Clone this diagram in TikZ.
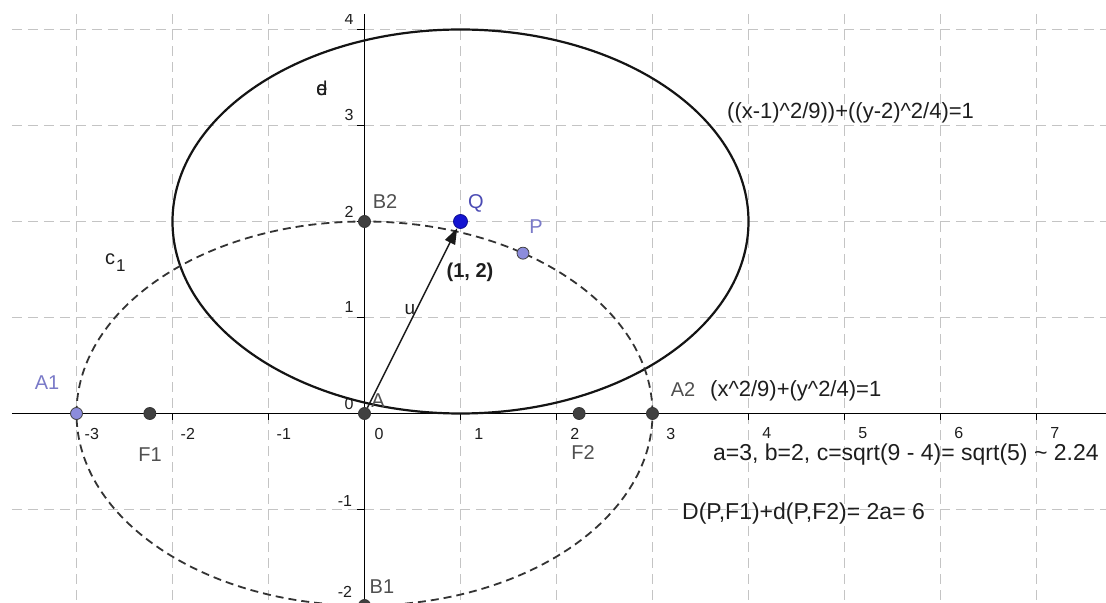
\documentclass[tikz,border=0pt]{standalone}
\usepackage{fontspec}
\setmainfont{Liberation Sans}
\usetikzlibrary{arrows.meta}
\definecolor{gridc}{HTML}{C4C4C4}
\definecolor{ptgray}{HTML}{404040}
\definecolor{lblgray}{HTML}{505050}
\definecolor{lav}{HTML}{8C8CDC}
\definecolor{lavtext}{HTML}{7A7AC8}
\definecolor{qblue}{HTML}{1414D2}
\definecolor{qtext}{HTML}{4B4BB4}
\definecolor{txt}{HTML}{1E1E1E}
\begin{document}
\begin{tikzpicture}[x=96bp,y=96bp,
  gridline/.style={draw=gridc,line width=1bp,dash pattern=on 10bp off 6bp},
  axisline/.style={draw=black,line width=1.5bp},
  tickline/.style={draw=black,line width=1.2bp},
  ticklbl/.style={inner sep=0pt,text=txt,font=\fontsize{16bp}{18bp}\selectfont},
  ptdark/.style={circle,fill=ptgray,draw=black!80,line width=0.8bp,minimum size=12bp,inner sep=0pt},
  ptlav/.style={circle,fill=lav,draw=ptgray,line width=0.8bp,minimum size=12bp,inner sep=0pt},
  ptblue/.style={circle,fill=qblue,draw=qblue!70!black,line width=0.8bp,minimum size=14bp,inner sep=0pt},
  ptlbl/.style={inner sep=0pt,text=lblgray,font=\fontsize{20bp}{22bp}\selectfont},
  eqlbl/.style={inner sep=0pt,text=txt,font=\fontsize{22bp}{26bp}\selectfont},
  eqlblb/.style={inner sep=0pt,text=txt,font=\fontsize{23bp}{26bp}\selectfont},
]
\useasboundingbox[fill=white] (-3.796875,-1.973958) rectangle (7.723958,4.307292);
\begin{scope}
\clip (-3.672,-1.974) rectangle (7.724,4.161);
% grid
\foreach \x in {-3,...,7} \draw[gridline] (\x,4.161) -- (\x,-1.974);
\foreach \y in {-1,1,2,3,4} \draw[gridline] (-3.672,\y) -- (7.724,\y);
% axes
\draw[axisline] (-3.672,0) -- (7.724,0);
\draw[axisline] (0,4.161) -- (0,-1.974);
\foreach \x in {-3,-2,-1,1,2,...,7} \draw[tickline] (\x,0) -- (\x,-0.065);
\foreach \y in {-1,1,2,3,4} \draw[tickline] (-0.075,\y) -- (0,\y);
% tick labels
\foreach \x in {1,2,3} \node[ticklbl] (xl\x) at (\x+0.19,-0.214) {\x};
\foreach \x in {4,...,7} \node[ticklbl] (xl\x) at (\x+0.19,-0.200) {\x};
\foreach \x in {-3,-2,-1} \node[ticklbl] (xl\x) at (\x+0.16,-0.214) {\x};
\node[ticklbl] (xl0) at (0.151,-0.214) {0};
\foreach \y in {1,...,4} \node[ticklbl] (yl\y) at (-0.161,\y+0.105) {\y};
\node[ticklbl] (yl-1) at (-0.203,-0.911) {-1};
\node[ticklbl] (yl-2) at (-0.203,-1.859) {-2};
\node[ticklbl] (yl0) at (-0.161,0.099) {0};
% ellipses
\draw[line width=2.2bp,draw=black!92] (1,2) ellipse [x radius=3, y radius=2];
\draw[line width=1.8bp,draw=black!80,dash pattern=on 8bp off 5bp] (0,0) ellipse [x radius=3, y radius=2];
% points
\node[ptlav] (A1) at (-3,0) {};
\node[ptdark] (F1) at (-2.23607,0) {};
\node[ptdark] (A) at (0,0) {};
\node[ptdark] (F2) at (2.23607,0) {};
\node[ptdark] (A2) at (3,0) {};
\node[ptdark] (B2) at (0,2) {};
\node[ptdark] (B1) at (0,-2) {};
\node[ptlav] (P) at (1.651,1.670) {};
\node[ptblue] (Q) at (1,2) {};
% vector u
\draw[line width=1.5bp,draw=black!90,-{Triangle[length=16bp,width=11bp]}] (A) -- (Q);
\end{scope}
% point labels
\node[ptlbl,text=lavtext] (lA1) at (-3.307,0.318) {A1};
\node[ptlbl] (lF1) at (-2.234,-0.432) {F1};
\node[ptlbl] (lA) at (0.141,0.130) {A};
\node[ptlbl] (lB2) at (0.214,2.203) {B2};
\node[ptlbl] (lB1) at (0.182,-1.807) {B1};
\node[ptlbl,text=qtext] (lQ) at (1.161,2.193) {Q};
\node[ptlbl,text=lavtext] (lP) at (1.786,1.943) {P};
\node[ptlbl] (lF2) at (2.276,-0.411) {F2};
\node[ptlbl] (lA2) at (3.318,0.245) {A2};
\node[inner sep=0pt,text=txt,font=\bfseries\fontsize{20bp}{22bp}\selectfont] (lQc) at (1.099,1.474) {(1, 2)};
\node[inner sep=0pt,text=txt,font=\fontsize{19bp}{22bp}\selectfont] (lu) at (0.474,1.078) {u};
\node[inner sep=0pt,text=txt,font=\fontsize{20bp}{22bp}\selectfont,anchor=base west] (lc1) at (-2.703,1.547) {c\kern1bp\raisebox{-7bp}{\fontsize{17bp}{18bp}\selectfont 1}};
\node[inner sep=0pt,text=txt,font=\fontsize{20bp}{22bp}\selectfont] (ld) at (-0.443,3.391) {\rlap{d}e};
% equations
\node[eqlbl,anchor=base west] (eq1) at (3.776,3.068) {((x-1)\textasciicircum2/9))+((y-2)\textasciicircum2/4)=1};
\node[eqlbl,anchor=base west] (eq2) at (3.599,0.182) {(x\textasciicircum2/9)+(y\textasciicircum2/4)=1};
\node[eqlblb,anchor=base west] (eq3) at (3.630,-0.490) {a=3, b=2, c=sqrt(9 - 4)= sqrt(5) \textasciitilde{} 2.24};
\node[eqlblb,anchor=base west] (eq4) at (3.307,-1.099) {D(P,F1)+d(P,F2)= 2a= 6};
\end{tikzpicture}
\end{document}
